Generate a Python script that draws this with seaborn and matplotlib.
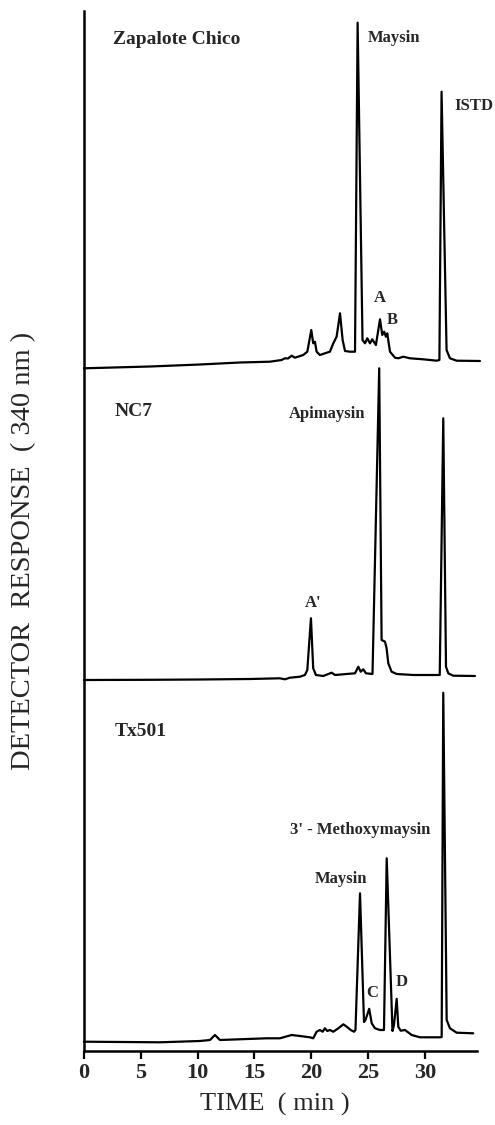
import numpy as np
import pandas as pd
import matplotlib
matplotlib.use("Agg")
import matplotlib.pyplot as plt
import seaborn as sns

# ---- data (time in min, detector response in arbitrary units) ----
zc_time = [0.0, 5.81, 10.21, 13.73, 16.37, 17.40, 17.56, 17.69, 17.96, 18.28, 18.57, 19.30, 19.66,
           20.01, 20.18, 20.33, 20.48, 20.77, 21.21, 21.65, 21.95, 22.24, 22.54, 22.77, 22.98, 23.42,
           23.86, 24.09, 24.52, 24.74, 24.94, 25.18, 25.38, 25.70, 26.06, 26.26, 26.43, 26.58, 26.70,
           26.94, 27.38, 27.67, 28.11, 28.70, 29.87, 31.05, 31.29, 31.48, 31.92, 32.22, 32.81, 34.86]
zc_resp = [0, 1.8, 3.8, 5.8, 6.6, 8.3, 9.3, 10, 9.8, 12.6, 10.6, 13.3, 16.6,
           38.3, 25, 26.6, 16.6, 13.3, 15, 16.6, 25, 31.6, 55, 28.3, 17.3, 16.6,
           16.6, 345.6, 28.3, 25, 30, 25, 29, 23.3, 49, 33.3, 36.6, 31.6, 35,
           16.6, 10.6, 10, 11.6, 10, 9, 7.6, 8.3, 276.6, 18.3, 10, 7.6, 7.3]

nc7_time = [0.0, 5.81, 10.21, 14.61, 17.25, 17.69, 18.13, 19.01, 19.45, 19.66, 19.98, 20.18, 20.42,
            21.07, 21.80, 22.10, 23.12, 23.86, 24.15, 24.36, 24.59, 24.82, 25.40, 25.99, 26.20, 26.50,
            26.64, 26.79, 27.08, 27.53, 28.99, 31.05, 31.32, 31.63, 31.87, 32.07, 32.51, 34.42]
nc7_resp = [0, 0.2, 0.5, 1, 1.7, 0.7, 2.3, 3.3, 5, 10, 61.7, 11.7, 5,
            4, 7.3, 5, 6, 6.7, 13.3, 8.3, 10.7, 6.7, 6, 311.7, 40, 38.3,
            31.7, 16.7, 8.3, 6, 5, 5, 5, 261.7, 13.3, 6.7, 4.3, 4]

tx_time = [0.0, 6.69, 10.21, 11.09, 11.53, 11.97, 16.08, 17.25, 18.28, 19.01, 19.89, 20.18, 20.48,
           20.77, 21.01, 21.21, 21.42, 21.65, 21.95, 22.39, 22.83, 23.13, 23.48, 23.77, 23.90, 24.30,
           24.65, 24.78, 25.11, 25.33, 25.62, 26.06, 26.41, 26.65, 27.16, 27.29, 27.53, 27.67, 27.88,
           28.26, 28.85, 29.58, 31.34, 31.49, 31.63, 31.93, 32.22, 32.81, 34.27]
tx_resp = [0, -0.6, 0.7, 1.7, 6.7, 1.7, 3.4, 3.4, 6.7, 5.7, 4.4, 3.4, 10,
           11.7, 10, 13.4, 10.7, 11.7, 10, 13.4, 17.4, 15, 11.7, 10, 11.7, 148.4,
           19.7, 21.7, 32.9, 18.4, 13.4, 11.7, 11.7, 183.4, 10.7, 16.7, 42.9, 15, 11,
           11.7, 6.7, 4.4, 4.4, 4.7, 349, 21.7, 13.4, 9, 8.4]

samples = ["Zapalote Chico", "NC7", "Tx501"]
x_ticks = [0, 5, 10, 15, 20, 25, 30]

# ---- layout ----
offsets = [682.7, 371.0, 9.3]
W, H = 495, 1125
serif = ["Liberation Serif", "DejaVu Serif"]

sns.set_theme(style="ticks")
plt.rcParams["font.family"] = serif

fig = plt.figure(figsize=(W / 100, H / 100), dpi=100)
ax = fig.add_axes([84 / W, 1 - 1051 / H, (477 - 84) / W, (1051 - 11) / H])

traces = [(zc_time, zc_resp), (nc7_time, nc7_resp), (tx_time, tx_resp)]
for (t, r), off, name in zip(traces, offsets, samples):
    df = pd.DataFrame({"time": t, "resp": np.array(r) + off})
    sns.lineplot(data=df, x="time", y="resp", ax=ax, color="black", linewidth=1.6,
                 estimator=None, sort=False, clip_on=False)

ax.set_xlim(0, 34.6)
ax.set_ylim(0, 1040)
ax.set_xticks(x_ticks)
ax.set_xticklabels([str(v) for v in x_ticks], fontsize=16, fontweight="bold", family=serif)
ax.set_yticks([])
ax.set_xlabel("")
ax.set_ylabel("")
for s in ["top", "right"]:
    ax.spines[s].set_visible(False)
for s in ["left", "bottom"]:
    ax.spines[s].set_linewidth(1.8)
    ax.spines[s].set_color("black")
ax.tick_params(axis="x", direction="out", length=6, width=1.6, color="black", pad=3)
ax.set_facecolor("white")

def lab(x, y, s, size, ha="left"):
    ax.text(x, y, s, fontsize=size, fontweight="bold", ha=ha, va="center",
            family=serif, clip_on=False)

lab(2.55, 1012, "Zapalote Chico", 14)
lab(25.0, 1013, "Maysin", 12)
lab(32.57, 945, "ISTD", 12)
lab(26.06, 753, "A", 12, ha="center")
lab(27.1, 731, "B", 12, ha="center")
lab(2.73, 639, "NC7", 14)
lab(18.05, 637, "Apimaysin", 12)
lab(20.16, 448, "A'", 12, ha="center")
lab(2.73, 319, "Tx501", 14)
lab(18.13, 221, "3' - Methoxymaysin", 12)
lab(20.33, 172, "Maysin", 12)
lab(25.41, 58, "C", 12, ha="center")
lab(27.97, 69, "D", 12, ha="center")

fig.text(275 / W, 1 - 1104 / H, "TIME  ( min )", fontsize=19, ha="center", va="center", family=serif)
fig.text(24 / W, 1 - 551 / H, "DETECTOR  RESPONSE  ( 340 nm )", fontsize=20.5, rotation=90,
         ha="center", va="center", family=serif)

fig.savefig("out.png", dpi=100, facecolor="white")
